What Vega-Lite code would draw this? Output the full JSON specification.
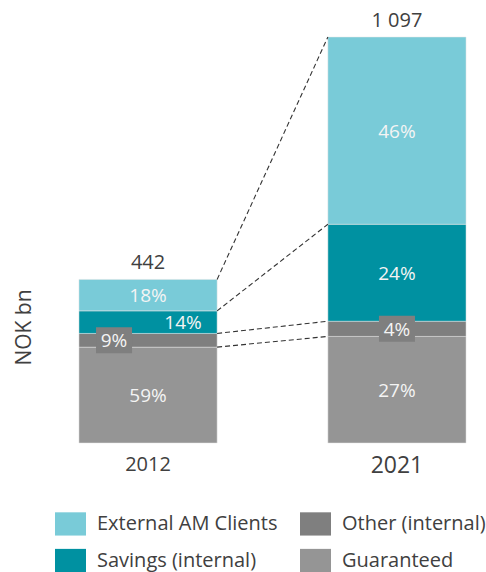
{
  "$schema": "https://vega.github.io/schema/vega-lite/v6.json",
  "width": 405,
  "height": 406,
  "autosize": {"type": "none"},
  "padding": {"left": 70, "top": 37, "right": 11, "bottom": 129},
  "config": {
    "view": {"stroke": null},
    "font": "Open Sans",
    "locale": {"number": {"decimal": ",", "thousands": " ", "grouping": [3], "currency": ["", ""]}}
  },
  "data": {
    "values": [
      {"year": "2012", "segment": "Guaranteed", "value": 259, "pct": "59%", "order": 1},
      {"year": "2012", "segment": "Other (internal)", "value": 37, "pct": "9%", "order": 2},
      {"year": "2012", "segment": "Savings (internal)", "value": 61, "pct": "14%", "order": 3},
      {"year": "2012", "segment": "External AM Clients", "value": 85, "pct": "18%", "order": 4},
      {"year": "2021", "segment": "Guaranteed", "value": 288, "pct": "27%", "order": 1},
      {"year": "2021", "segment": "Other (internal)", "value": 41, "pct": "4%", "order": 2},
      {"year": "2021", "segment": "Savings (internal)", "value": 262, "pct": "24%", "order": 3},
      {"year": "2021", "segment": "External AM Clients", "value": 506, "pct": "46%", "order": 4}
    ]
  },
  "layer": [
    {
      "mark": {"type": "bar", "stroke": "#e4e4e4", "strokeWidth": 0.5},
      "encoding": {
        "x": {
          "field": "year", "type": "nominal", "title": null,
          "scale": {"paddingInner": 0.445, "paddingOuter": 0.036},
          "axis": {
            "domain": false, "ticks": false, "labelAngle": 0, "labelPadding": 11,
            "labelColor": "#404040", "labelFont": "Open Sans",
            "labelFontSize": {"condition": {"test": "datum.value === '2021'", "value": 23}, "value": 20}
          }
        },
        "y": {
          "field": "value", "type": "quantitative", "stack": "zero", "title": "NOK bn",
          "scale": {"domain": [0, 1097], "nice": false},
          "axis": {
            "labels": false, "ticks": false, "domain": false, "grid": false,
            "titleX": -36, "titleY": 290, "titleAngle": -90, "titleBaseline": "bottom", "titleAlign": "center",
            "titleFontSize": 21, "titleFontWeight": "normal", "titleColor": "#404040", "titleFont": "Open Sans"
          }
        },
        "color": {
          "field": "segment", "type": "nominal",
          "scale": {
            "domain": ["External AM Clients", "Savings (internal)", "Other (internal)", "Guaranteed"],
            "range": ["#79CBD8", "#0091A1", "#7F7F7F", "#959595"]
          },
          "legend": {
            "orient": "none", "legendX": -15, "legendY": 471, "columns": 2, "title": null,
            "symbolType": "M-1,-0.75H1V0.75H-1Z", "symbolSize": 961, "symbolStrokeWidth": 0, "symbolOpacity": 1,
            "labelFontSize": 20, "labelColor": "#404040", "labelFont": "Open Sans", "labelOffset": 11, "labelLimit": 300,
            "rowPadding": 9, "columnPadding": 22, "padding": 0
          }
        },
        "order": {"field": "order", "type": "quantitative"}
      }
    },
    {
      "transform": [
        {"stack": "value", "groupby": ["year"], "sort": [{"field": "order", "order": "ascending"}], "as": ["v0", "v1"]},
        {"pivot": "year", "value": "v1", "groupby": ["segment"]}
      ],
      "mark": {"type": "rule", "strokeDash": [5, 3], "color": "#333333", "strokeWidth": 1.1},
      "encoding": {
        "x": {"datum": "2012", "type": "nominal", "bandPosition": 1, "title": null},
        "x2": {"datum": "2021", "bandPosition": 0},
        "y": {"field": "2012", "type": "quantitative", "title": "NOK bn"},
        "y2": {"field": "2021"}
      }
    },
    {
      "mark": {"type": "point", "shape": "M-1,-0.72H1V0.72H-1Z", "size": 1296, "filled": true, "color": "#7F7F7F", "strokeWidth": 0, "xOffset": -34},
      "encoding": {
        "x": {"field": "year", "type": "nominal", "title": null},
        "y": {"field": "value", "type": "quantitative", "stack": "zero", "bandPosition": 0.5, "title": "NOK bn"},
        "detail": {"field": "segment"},
        "order": {"field": "order", "type": "quantitative"},
        "opacity": {"condition": {"test": "datum.year === '2012' && datum.segment === 'Other (internal)'", "value": 1}, "value": 0}
      }
    },
    {
      "mark": {"type": "point", "shape": "M-1,-0.72H1V0.72H-1Z", "size": 1296, "filled": true, "color": "#7F7F7F", "strokeWidth": 0},
      "encoding": {
        "x": {"field": "year", "type": "nominal", "title": null},
        "y": {"field": "value", "type": "quantitative", "stack": "zero", "bandPosition": 0.5, "title": "NOK bn"},
        "detail": {"field": "segment"},
        "order": {"field": "order", "type": "quantitative"},
        "opacity": {"condition": {"test": "datum.year === '2021' && datum.segment === 'Other (internal)'", "value": 1}, "value": 0}
      }
    },
    {
      "mark": {"type": "text", "color": "#F4F4F4", "fontSize": 19, "baseline": "middle", "dy": 1, "font": "Open Sans"},
      "encoding": {
        "x": {"field": "year", "type": "nominal", "title": null},
        "y": {"field": "value", "type": "quantitative", "stack": "zero", "bandPosition": 0.5, "title": "NOK bn"},
        "detail": {"field": "segment"},
        "order": {"field": "order", "type": "quantitative"},
        "text": {"condition": {"test": "!(datum.year === '2012' && (datum.segment === 'Other (internal)' || datum.segment === 'Savings (internal)'))", "field": "pct"}, "value": ""}
      }
    },
    {
      "mark": {"type": "text", "color": "#F4F4F4", "fontSize": 19, "baseline": "middle", "dy": 1, "dx": 35, "font": "Open Sans"},
      "encoding": {
        "x": {"field": "year", "type": "nominal", "title": null},
        "y": {"field": "value", "type": "quantitative", "stack": "zero", "bandPosition": 0.5, "title": "NOK bn"},
        "detail": {"field": "segment"},
        "order": {"field": "order", "type": "quantitative"},
        "text": {"condition": {"test": "datum.year === '2012' && datum.segment === 'Savings (internal)'", "field": "pct"}, "value": ""}
      }
    },
    {
      "mark": {"type": "text", "color": "#F4F4F4", "fontSize": 19, "baseline": "middle", "dy": 1, "dx": -34, "font": "Open Sans"},
      "encoding": {
        "x": {"field": "year", "type": "nominal", "title": null},
        "y": {"field": "value", "type": "quantitative", "stack": "zero", "bandPosition": 0.5, "title": "NOK bn"},
        "detail": {"field": "segment"},
        "order": {"field": "order", "type": "quantitative"},
        "text": {"condition": {"test": "datum.year === '2012' && datum.segment === 'Other (internal)'", "field": "pct"}, "value": ""}
      }
    },
    {
      "mark": {"type": "text", "color": "#404040", "fontSize": 20, "baseline": "alphabetic", "dy": -10, "font": "Open Sans"},
      "encoding": {
        "x": {"field": "year", "type": "nominal", "title": null},
        "y": {"aggregate": "sum", "field": "value", "type": "quantitative", "title": "NOK bn"},
        "text": {"aggregate": "sum", "field": "value", "type": "quantitative", "format": ",d"}
      }
    }
  ]
}
